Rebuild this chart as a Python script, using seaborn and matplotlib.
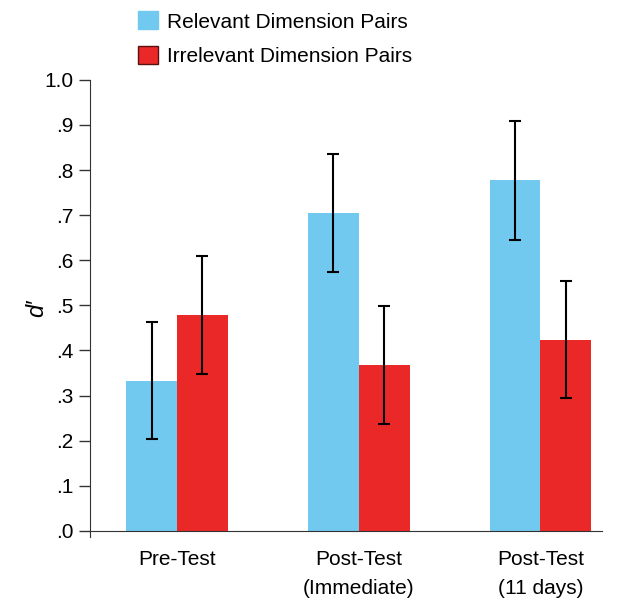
import pandas as pd
import matplotlib
matplotlib.use('Agg')
import matplotlib.pyplot as plt
import seaborn as sns
from matplotlib.patches import Patch

# Data
tests = ['Pre-Test', 'Post-Test\n(Immediate)', 'Post-Test\n(11 days)']
conditions = ['Relevant Dimension Pairs', 'Irrelevant Dimension Pairs']
relevant = [0.333, 0.705, 0.777]
irrelevant = [0.479, 0.368, 0.424]
relevant_err = [0.130, 0.130, 0.131]
irrelevant_err = [0.130, 0.131, 0.130]
ytick_vals = [0.0, 0.1, 0.2, 0.3, 0.4, 0.5, 0.6, 0.7, 0.8, 0.9, 1.0]
ytick_labels = ['.0', '.1', '.2', '.3', '.4', '.5', '.6', '.7', '.8', '.9', '1.0']

colors = {'Relevant Dimension Pairs': '#72C9F0', 'Irrelevant Dimension Pairs': '#EB2828'}

df = pd.DataFrame({
    'test': tests * 2,
    'condition': [conditions[0]] * 3 + [conditions[1]] * 3,
    'dprime': relevant + irrelevant,
    'err': relevant_err + irrelevant_err,
})

sns.set_style('white')
plt.rcParams['font.family'] = ['Liberation Sans', 'DejaVu Sans']
plt.rcParams['text.color'] = 'black'
plt.rcParams['ytick.color'] = 'black'
plt.rcParams['xtick.color'] = 'black'
plt.rcParams['axes.labelcolor'] = 'black'
plt.rcParams['xtick.labelsize'] = 15
plt.rcParams['ytick.labelsize'] = 15

fig = plt.figure(figsize=(6.28, 6.05), dpi=100)
ax = fig.add_axes([0.143, 0.112, 0.816, 0.756])

sns.barplot(data=df, x='test', y='dprime', hue='condition', hue_order=conditions,
            order=tests, palette=colors, width=0.56, gap=0, saturation=1,
            errorbar=None, legend=False, ax=ax, linewidth=0)

# Error bars at the centres of the bars seaborn drew
bars = ax.patches
for bar, (_, row) in zip(bars, df.iterrows()):
    xc = bar.get_x() + bar.get_width() / 2
    ax.errorbar(xc, bar.get_height(), yerr=row['err'], fmt='none',
                ecolor='black', elinewidth=1.5, capsize=4, capthick=1.5)

ax.set_xlim(-0.48, 2.34)
ax.set_ylim(-0.014, 1.0)
ax.set_yticks(ytick_vals)
ax.set_yticklabels(ytick_labels)
ax.tick_params(axis='y', left=True, length=8, width=1, color='#333333', pad=4)
ax.tick_params(axis='x', bottom=False, labelsize=15, pad=10)

ax.spines['top'].set_visible(False)
ax.spines['right'].set_visible(False)
ax.spines['bottom'].set_position(('data', 0))
ax.spines['left'].set_color('#333333')
ax.spines['bottom'].set_color('#333333')
ax.set_xlabel('')
ax.set_ylabel('d\u2032', fontsize=17, style='italic', labelpad=-3)

handles = [Patch(facecolor=colors[conditions[0]], edgecolor=colors[conditions[0]]),
           Patch(facecolor=colors[conditions[1]], edgecolor='#5a1010', linewidth=1)]
fig.legend(handles, conditions, loc='upper left', bbox_to_anchor=(0.19, 1.012),
           frameon=False, fontsize=15, handlelength=0.95, handleheight=0.95,
           handletextpad=0.45, labelspacing=0.7)

# wider line spacing for the two-line category labels
fig.canvas.draw()
for lbl in ax.get_xticklabels():
    lbl.set_linespacing(1.7)

fig.savefig('out.png', dpi=100)
